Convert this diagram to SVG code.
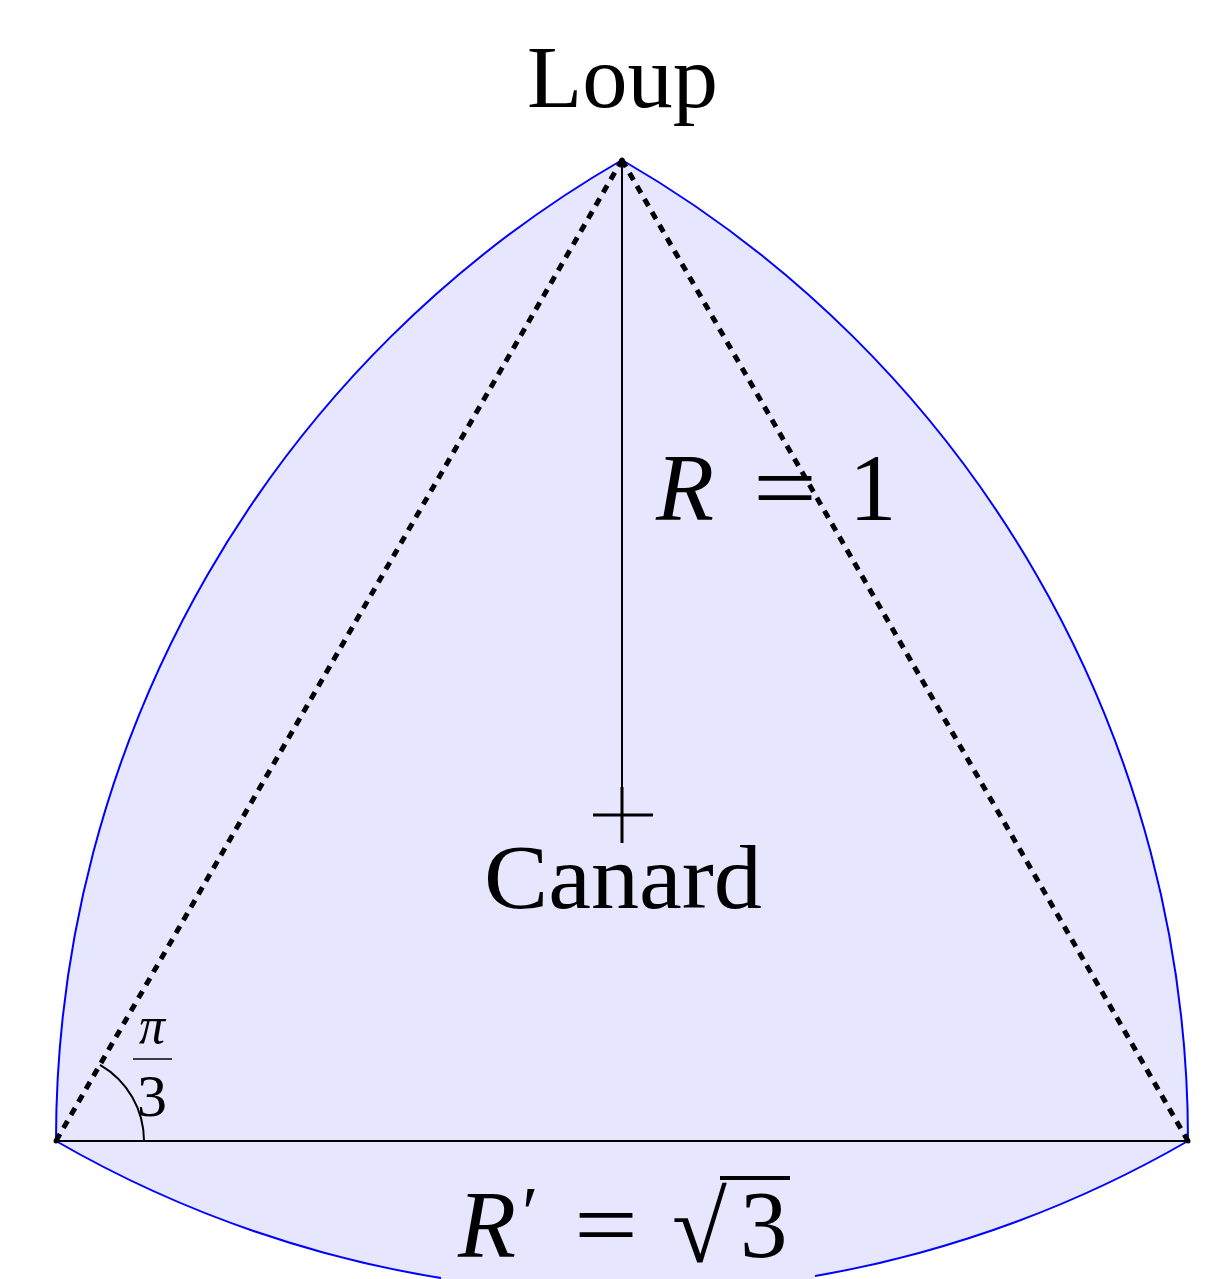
<svg xmlns="http://www.w3.org/2000/svg" width="1231" height="1279" viewBox="0 0 1231 1279">
<style>
.t{font-family:"Liberation Serif","DejaVu Serif",serif;fill:#000}
.i{font-style:italic}
.thin{stroke:#000;stroke-width:2;fill:none}
.dot{stroke:#000;stroke-width:5;stroke-dasharray:8 7;fill:none}
</style>
<rect width="1231" height="1279" fill="#fff"/>
<g id="reuleaux">
<path d="M 622 160 A 1132.6 1132.6 0 0 0 56 1141 A 1132.6 1132.6 0 0 0 1188 1141 A 1132.6 1132.6 0 0 0 622 160 Z" fill="#e6e6ff" stroke="#0000ff" stroke-width="2"/>
</g>
<g id="connectors">
<line class="thin" x1="56" y1="1141" x2="1188" y2="1141"/>
<line class="thin" x1="622" y1="160" x2="622" y2="843"/>
<line x1="593" y1="815" x2="653" y2="815" stroke="#000" stroke-width="3"/>
<line x1="622" y1="787" x2="622" y2="843" stroke="#000" stroke-width="3"/>
<path class="thin" d="M 144 1141 A 88 88 0 0 0 100 1064.8"/>
</g>
<g id="label-R">
<text class="t i" x="656" y="520" font-size="95">R</text>
<text class="t" x="753" y="520" font-size="95" textLength="64" lengthAdjust="spacingAndGlyphs">=</text>
<text class="t" x="849" y="520" font-size="95">1</text>
</g>
<g id="label-Rprime">
<rect x="441" y="1165" width="374" height="130" rx="4" fill="#e6e6ff"/>
<text class="t i" x="458" y="1257" font-size="95">R</text>
<text class="t" x="522" y="1238" font-size="75">′</text>
<text class="t" x="574" y="1257" font-size="95" textLength="64" lengthAdjust="spacingAndGlyphs">=</text>
<text class="t" x="672" y="1262" font-size="100">√</text>
<line x1="720" y1="1178" x2="790" y2="1178" stroke="#000" stroke-width="4"/>
<text class="t" x="740" y="1257" font-size="95">3</text>
</g>
<g id="dotted">
<line class="dot" x1="56" y1="1141" x2="622" y2="160"/>
<line class="dot" x1="622" y1="160" x2="1188" y2="1141"/>
<circle cx="56" cy="1141" r="2.5"/>
<circle cx="622" cy="160" r="2.5"/>
<circle cx="1188" cy="1141" r="2.5"/>
</g>
<g id="node-loup">
<text class="t" x="527" y="107" font-size="88" textLength="191" lengthAdjust="spacingAndGlyphs">Loup</text>
</g>
<g id="node-canard">
<text class="t" x="484" y="908" font-size="90" textLength="278" lengthAdjust="spacingAndGlyphs">Canard</text>
</g>
<g id="label-angle">
<text class="t i" x="152" y="1043" font-size="52" text-anchor="middle">π</text>
<line x1="133" y1="1059" x2="172" y2="1059" stroke="#000" stroke-width="1.5"/>
<text class="t" x="152" y="1116" font-size="60" text-anchor="middle">3</text>
</g>
</svg>
